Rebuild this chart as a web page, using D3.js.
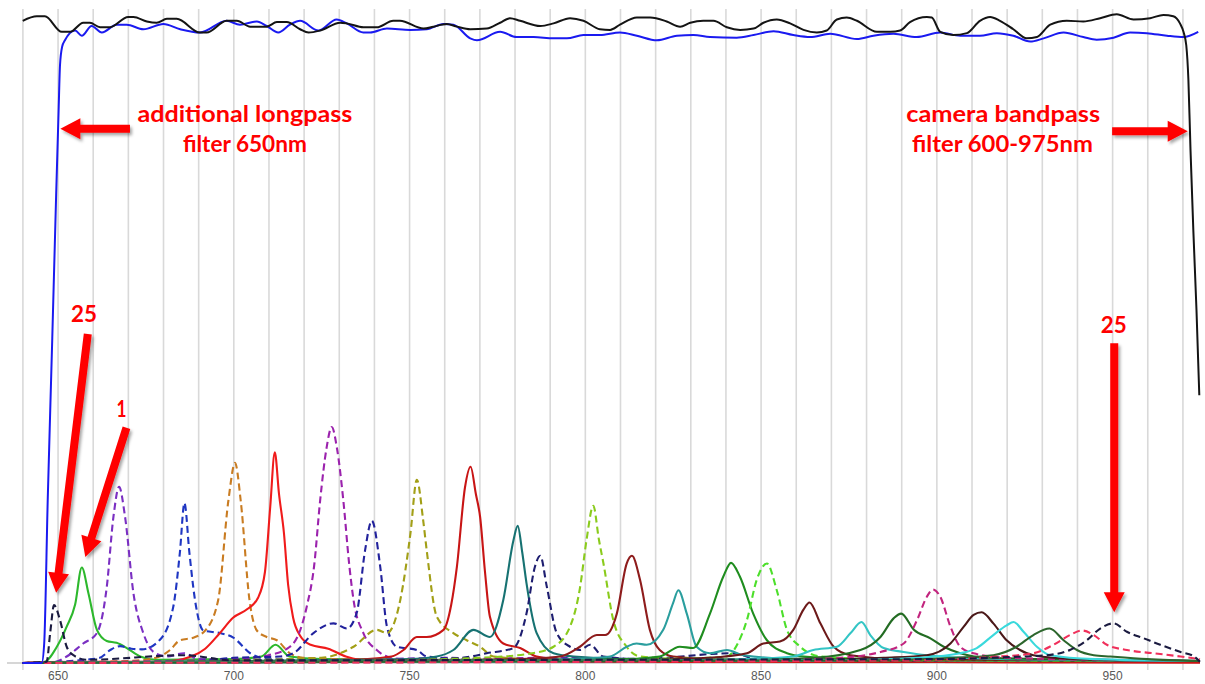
<!DOCTYPE html>
<html>
<head>
<meta charset="utf-8">
<script src="https://cdn.jsdelivr.net/npm/d3@7"></script>
<style>
  html, body { margin: 0; padding: 0; background: #ffffff; }
  svg { display: block; }
</style>
</head>
<body>
<svg id="chart" width="1205" height="684"></svg>
<script>
// ---- Spectral responses, [wavelength nm, relative response %] ----
const band01 = [[640,0],[646,0.1],[649.8,2.5],[652.6,5.6],[655,9],[656.9,14.7],[658.8,10.7],[661.2,5.1],[664,3.4],[666.8,3.1],[669.7,2.3],[673.5,1],[678,0.5],[700,0.6],[708,1],[712,2.8],[716,1],[725,0.6],[760,0.5],[800,0.6],[850,0.4],[900,0.5],[975,0.3]];
const band02 = [[640,0],[647.9,0],[652.6,1],[657.3,3],[661.2,4.6],[664,11.7],[665.9,22.5],[667.5,27.1],[669.2,22.5],[671.6,10.7],[674.4,4.6],[677.3,1.7],[681,1],[686,1.5],[690,0.6],[730,0.4],[760,0.8],[790,0.3],[850,0.6],[900,0.4],[975,0.2]];
const band03 = [[640,0],[650,0.2],[658,0.5],[662,0.8],[665,2],[667.8,2.6],[671,2.2],[674,2.1],[679,3.5],[682.9,8.6],[684.8,17],[686.1,24.6],[687.5,17],[689.1,9.7],[691.5,5],[696.2,4.6],[700,3.9],[704.8,1.5],[710,0.6],[740,0.5],[800,0.4],[860,0.5],[920,0.3],[975,0.2]];
const band04 = [[640,0],[670,0.3],[678,0.8],[682,2],[684.8,3.5],[688.6,3.9],[692,5],[695.7,9.7],[698.6,25],[700.5,30.8],[702.1,25],[704.6,9.7],[706.7,5],[709.5,4],[712.4,3.5],[716.1,1.5],[720,0.8],[740,0.5],[780,0.6],[830,0.4],[900,0.5],[975,0.3]];
const band05 = [[640,0],[646,0.15],[660,0.2],[680,0.2],[688,1],[692,2.2],[696,4.5],[700,7],[704,8.3],[707,10],[709,14],[710.5,24],[711.8,32.4],[713,26],[714.4,20],[715.6,12],[717,7],[719,4.2],[722,2.8],[727,2.2],[732,1],[740,0.3],[770,0.4],[800,0.15],[850,0.2],[900,0.15],[975,0.1]];
const band06 = [[640,0],[680,0.3],[700,0.6],[710,1.2],[716.1,2.5],[719,5],[720.9,8.7],[723,15],[724.7,25],[726.5,33],[728,36.3],[729.5,33],[731.3,25],[733,15],[734.2,9.7],[737,4.6],[740.8,2],[743.7,1],[750,0.5],[790,0.8],[830,0.4],[880,0.5],[975,0.3]];
const band07 = [[640,0],[690,0.3],[700,0.8],[713.3,1],[717.1,1.5],[722.8,4.6],[728.5,6.1],[732.3,5.3],[735.1,7.7],[737.5,17.4],[739.4,21.9],[741.8,14.8],[743.7,5.6],[746.5,2.5],[752.2,2],[755,1],[770,0.5],[800,0.7],[850,0.4],[900,0.5],[975,0.2]];
const band08 = [[640,0],[700,0.4],[725,0.8],[734.2,2.5],[740.8,5.1],[743.7,4.6],[747.5,9.7],[750.4,20],[752.2,28.2],[754,22],[755,17.4],[757.9,7.1],[762.6,4.6],[766.4,3.5],[770.2,2.5],[774,1],[790,0.5],[830,0.6],[900,0.4],[975,0.2]];
const band09 = [[640,0],[700,0.2],[730,0.4],[745,1],[748.4,2],[752.2,4],[755,4],[759.8,5.1],[762,9],[763.6,14.8],[765.9,27],[767.5,30.2],[769,26],[770.2,22.5],[771.6,14],[773,7.1],[776.8,3],[781.6,2.3],[786.3,1],[800,0.2],[850,0.2],[900,0.15],[975,0.1]];
const band10 = [[640,0],[720,0.4],[750,0.6],[757.9,1],[762.6,2],[768.3,5.1],[773,4],[776.8,9.7],[779.7,18.9],[780.9,21.1],[782.2,17],[783.4,12.3],[786.3,4.6],[791.1,1.5],[796.8,1],[820,0.5],[880,0.4],[975,0.3]];
const band11 = [[640,0],[740,0.4],[765,0.8],[772.1,1.5],[779.7,2.3],[783.4,7.6],[785.8,14.8],[787.3,16.5],[789.2,11.7],[792,4.6],[795.8,2.5],[798.6,2],[801.5,2.8],[805.2,1],[815,0.6],[842,1.5],[850,0.5],[900,0.4],[975,0.3]];
const band12 = [[640,0],[740,0.4],[770,0.8],[785,1.5],[791.1,2.5],[795.8,5.6],[798.6,11.5],[800.5,19],[802.4,24.2],[804,19],[805.3,15.3],[808.1,6.6],[811.9,2.5],[815.7,1],[830,0.6],[880,0.4],[975,0.3]];
const band13 = [[640,0],[760,0.4],[785,0.7],[793,1],[798.6,2.5],[803.4,4.3],[805.8,4.3],[809.1,7.6],[811.9,15.3],[813.4,16.5],[815.7,12.8],[818.5,5.1],[821.3,2],[825.1,1],[840,0.5],[900,0.4],[975,0.3]];
const band14 = [[640,0],[780,0.4],[800,0.7],[807.2,1],[811.9,2.5],[814.7,3],[817.6,2.8],[822.3,5.1],[825.1,9.2],[826.6,11.2],[829,7.6],[831.8,2.5],[835.6,1.5],[840.4,2],[845.1,1.2],[860,0.6],[920,0.4],[975,0.3]];
const band15 = [[640,0],[790,0.4],[812,0.6],[821.3,1],[827,2.5],[830.8,2.3],[835.6,7.6],[839.4,13.3],[841.6,15.4],[844.1,13.3],[847.9,7.6],[851.8,3.5],[857.5,1.5],[862.2,1],[880,0.6],[930,0.4],[975,0.3]];
const band16 = [[640,0],[800,0.4],[830,0.7],[840.4,1],[843.5,3],[846.1,6.6],[848.9,12.8],[851.8,15.3],[854.6,11.2],[857.5,5.1],[861.3,2.5],[867,1],[890,0.5],[975,0.3]];
const band17 = [[640,0],[810,0.4],[835,0.8],[846.1,1.5],[850.8,3],[855.5,3.3],[859.3,5.1],[862.2,8.2],[863.9,9.3],[867,6.1],[870.8,2.5],[875.6,1.2],[890,0.6],[975,0.3]];
const band18 = [[640,0],[820,0.4],[850,0.7],[859.3,1],[865,2],[871.7,2.5],[875.6,4.6],[878.7,6.3],[881.2,4.3],[885,2.3],[890.7,1.7],[897.3,1.2],[920,0.6],[975,0.3]];
const band19 = [[640,0],[840,0.4],[865,0.8],[878.4,2],[884.1,4],[887.9,6.9],[890,7.6],[893.6,5.1],[898.3,3.8],[902.1,2.5],[906.8,1.5],[915,0.8],[975,0.3]];
const band20 = [[640,0],[850,0.4],[875,0.9],[884.1,1.7],[890.7,3],[894.5,6.6],[897.3,10.2],[899,11.3],[901.1,10.2],[904,5.6],[906.8,2.5],[910.6,1.5],[920,0.8],[975,0.3]];
const band21 = [[640,0],[860,0.4],[885,0.8],[897.3,1.2],[904,3],[907.8,5.6],[910.6,7.4],[912.9,7.8],[916.2,6.1],[920,3.5],[923.8,2],[927.6,1.2],[940,0.6],[975,0.3]];
const band22 = [[640,0],[870,0.4],[895,0.8],[906.8,1.5],[911.5,2.3],[916.2,4.3],[920,5.8],[922,6.3],[924.8,4.8],[928.6,2.5],[932.4,1.2],[945,0.6],[975,0.3]];
const band23 = [[640,0],[880,0.4],[905,0.8],[916.2,1.2],[922.8,2.5],[927.6,4.3],[932.2,5.3],[936.2,3.5],[940,2],[944.8,1.2],[949.5,1],[960,0.6],[975,0.3]];
const band24 = [[640,0],[890,0.4],[915,0.9],[927.6,1.5],[933.3,2.8],[938,4.3],[941.4,5],[944.8,4.3],[948.5,2.8],[954.2,2],[961.8,1.5],[969.5,1],[975,0.6]];
const band25 = [[640,0],[646.9,0.2],[647.9,4.6],[649,8.9],[650.7,6.6],[652.6,2.5],[654.5,1.2],[658.3,0.5],[686,1.2],[700,0.4],[800,0.5],[900,0.6],[920,0.9],[931.4,1.2],[938,2],[942.8,3.5],[946.6,5.3],[950.4,6.1],[954.2,4.8],[959,3.8],[963.7,2.8],[969.5,1.7],[973.3,1],[975,0.2]];

// ---- Filter transmission curves (%) ----
const longpass650 = [[640,0],[645.5,0],[646.2,3],[647.2,25],[648.5,50],[649.6,72],[650.3,85],[650.7,92],[651.3,94.8],[652.1,95.8],[655,97.3],[656.9,96.5],[659.7,98],[662.6,97],[666.8,98.2],[669.7,98.2],[674.4,97.5],[680.1,98.3],[684.9,97.5],[690.5,97],[698.1,98.8],[701.9,98.2],[706.7,98.7],[709.5,98],[712.8,97],[716.1,98.2],[719,98.8],[724.2,97.3],[729.4,99],[732.3,98.4],[737,97],[738.9,97],[743.7,97.6],[750.3,97.4],[755,97.5],[759.8,98.3],[762.6,98.2],[767.4,96.1],[769.3,95.8],[775.9,97.1],[780.6,96.3],[785.4,96.3],[791.1,96.1],[794.9,96.1],[799.6,96.6],[804.3,96.6],[810,97],[814.8,96.5],[820.5,95.8],[826.2,96.5],[830.9,96.6],[835.6,96.3],[843.2,96.2],[848,96.6],[853.7,97.2],[859.3,96.6],[864.1,96.3],[869.8,96.8],[877.4,96],[882.1,96.5],[887.8,96.8],[894.4,96.3],[901.1,97],[906.8,96.5],[912.4,96.5],[917.2,96.9],[921.9,96.5],[926.7,95.6],[930.5,96.1],[936.2,97],[941.8,96.3],[945.6,95.9],[950.4,96.2],[955.1,97],[959.9,96.9],[965.6,96.5],[970.3,96.3],[974.5,97.1]];
const bandpass600_975 = [[640.1,98.8],[644.1,99.5],[646.4,99.5],[651.2,97.1],[653.6,97.1],[657.3,98.5],[659.2,98.5],[662.1,97.8],[664.9,97.8],[670.1,99.4],[671.6,99.4],[675.4,98.7],[678.2,98.5],[681.1,99.1],[683.9,99.1],[690.5,97],[692.4,97],[698.1,98.8],[701,98.8],[704.8,97.9],[709.5,97.9],[712.4,98.6],[715.2,98.6],[719,97.5],[721.4,97],[724.7,97.3],[730.4,98.5],[732.3,98.4],[737,97.8],[740.8,97.8],[745.5,98.8],[747.4,98.8],[754.1,97.6],[756.9,97.9],[760.7,98.3],[763.6,97.9],[767.4,97.5],[772.1,97.6],[775.9,98.5],[778.7,99.2],[781.6,98.8],[787.3,98],[791.1,98.4],[795.8,99.2],[799.6,98.8],[804.3,97.5],[807.2,97.4],[810,98.2],[814.8,99.3],[818.6,99.3],[823.3,98.7],[827.1,97.9],[830,98.5],[833.7,98.8],[836.6,98.8],[840.4,97.8],[844.2,97.4],[848,97.6],[850.8,98.5],[854.6,99],[858.4,98.4],[862.2,97.4],[866,97],[868.8,97.3],[871.7,99],[874.5,99.3],[877.4,98.8],[883.1,97.1],[886.9,97.1],[889.7,97.3],[892.5,98.6],[897.3,99.4],[898.7,99.3],[901.1,97.1],[904.8,96.6],[908.7,96.9],[912.4,98.8],[915.3,99.4],[918.1,98.8],[921.9,97.5],[925.7,96.1],[928.6,96.3],[932.4,98.2],[937.1,98.8],[941.8,98.7],[946.6,99.2],[951.3,99.8],[956.1,99],[960.8,99.2],[964.6,99.7],[967.4,99.5],[969.3,98.4],[970.3,97.1],[971.1,95],[971.7,89.7],[972.3,78.9],[973.1,66.6],[974,54.3],[974.8,41.2]];

// ---- Axis ticks ----
const labelTicks = [650, 700, 750, 800, 850, 900, 950];
const gridTicks = d3.range(640, 971, 10);

// ---- Annotations (text, anchor in nm / %) ----
const noteTexts = ["additional longpass", "filter 650nm", "camera bandpass", "filter 600-975nm", "25", "1", "25"];
const noteAnchors = [[703.3, 83.2], [703.3, 78.6], [919.0, 83.2], [918.8, 78.6], [657.5, 52.4], [668.2, 37.8], [950.5, 50.7]];
const arrowStarts = [[670.6, 82.2], [950.0, 81.8], [658.6, 50.6], [669.6, 36.2], [950.6, 49.2]];
const arrowTips   = [[650.8, 82.2], [971.5, 81.8], [649.6, 10.8], [657.9, 16.3], [950.6, 7.8]];

// ---- Styles ----
const bands = [band01, band02, band03, band04, band05, band06, band07, band08, band09, band10,
               band11, band12, band13, band14, band15, band16, band17, band18, band19, band20,
               band21, band22, band23, band24, band25];
const bandColors = ["#2db82d", "#7a2fc2", "#1f36c2", "#c97c22", "#f01b1b", "#9b22ad", "#22229c", "#a29f16", "#c81515", "#177272",
                    "#1e1e70", "#8acb1c", "#8e1c1c", "#2a9e9e", "#1f8d1f", "#4ddf2b", "#6d1a1a", "#33c5c5", "#236c23", "#c2247e",
                    "#4a1818", "#3ad9dc", "#2d662d", "#f0305b", "#1b1b40"];
const bandDashed = [false, true, true, true, false, true, true, true, false, false,
                    true, true, false, false, false, true, false, false, false, true,
                    false, false, false, true, true];
const noteWidths = [215, 124, 194, 181, 26, 10, 26];

const svg = d3.select("#chart");
const W = 1205, H = 684;
svg.append("rect").attr("width", W).attr("height", H).attr("fill", "#ffffff");

const x = d3.scaleLinear().domain([640, 975]).range([22.4, 1200]);
const y = d3.scaleLinear().domain([0, 100]).range([663, 13]);

const plotTop = 9, axisY = y(0), tickBottom = 670;

// arrow shadow
const defs = svg.append("defs");
const f = defs.append("filter").attr("id", "shadow").attr("x", "-30%").attr("y", "-30%").attr("width", "160%").attr("height", "160%");
f.append("feDropShadow").attr("dx", 2).attr("dy", 2.5).attr("stdDeviation", 1.6)
  .attr("flood-color", "#000").attr("flood-opacity", 0.35);

// vertical gridlines (extend a little below the axis as tick marks)
const grid = svg.append("g").attr("transform", `translate(0,${tickBottom})`)
  .call(d3.axisBottom(x).tickValues(gridTicks).tickSize(-(tickBottom - plotTop)).tickFormat(""));
grid.select(".domain").remove();
grid.selectAll(".tick line").attr("stroke", "#d9d9d9").attr("stroke-width", 1.6);

// horizontal axis line
svg.append("line").attr("x1", 7).attr("x2", 1200).attr("y1", axisY).attr("y2", axisY)
  .attr("stroke", "#c8c8c8").attr("stroke-width", 1.5);

// axis labels
const ax = svg.append("g").attr("transform", `translate(0,${tickBottom})`)
  .call(d3.axisBottom(x).tickValues(labelTicks).tickSize(0).tickPadding(1.8).tickFormat(d3.format("d")));
ax.select(".domain").remove();
ax.selectAll("text").attr("font-family", "'Liberation Sans', Arial, sans-serif")
  .attr("font-size", 12).attr("fill", "#595959");

const line = d3.line().x(d => x(d[0])).y(d => y(d[1])).curve(d3.curveMonotoneX);

// band responses
svg.append("g").selectAll("path").data(bands).join("path")
  .attr("d", line)
  .attr("fill", "none")
  .attr("stroke", (d, i) => bandColors[i])
  .attr("stroke-width", 2.1)
  .attr("stroke-linejoin", "round")
  .attr("stroke-dasharray", (d, i) => bandDashed[i] ? "7,4" : null);

// filter transmissions
svg.append("path").datum(longpass650).attr("d", line).attr("fill", "none")
  .attr("stroke", "#1a1af0").attr("stroke-width", 2);
svg.append("path").datum(bandpass600_975).attr("d", line).attr("fill", "none")
  .attr("stroke", "#141414").attr("stroke-width", 2);

// arrows
function arrowPoly(p0, p1, shaftW, headL, headW) {
  const x0 = x(p0[0]), y0 = y(p0[1]), x1 = x(p1[0]), y1 = y(p1[1]);
  const len = Math.hypot(x1 - x0, y1 - y0);
  const ux = (x1 - x0) / len, uy = (y1 - y0) / len;
  const nx = -uy, ny = ux;
  const bx = x1 - ux * headL, by = y1 - uy * headL;
  const pts = [
    [x0 + nx * shaftW / 2, y0 + ny * shaftW / 2],
    [bx + nx * shaftW / 2, by + ny * shaftW / 2],
    [bx + nx * headW / 2, by + ny * headW / 2],
    [x1, y1],
    [bx - nx * headW / 2, by - ny * headW / 2],
    [bx - nx * shaftW / 2, by - ny * shaftW / 2],
    [x0 - nx * shaftW / 2, y0 - ny * shaftW / 2]
  ];
  return pts.map(p => p.join(",")).join(" ");
}
svg.append("g").attr("filter", "url(#shadow)")
  .selectAll("polygon").data(arrowStarts).join("polygon")
  .attr("points", (d, i) => arrowPoly(d, arrowTips[i], 8, 20, 21))
  .attr("fill", "#ff0000");

// annotation texts
svg.append("g").selectAll("text").data(noteTexts).join("text")
  .attr("x", (d, i) => x(noteAnchors[i][0]))
  .attr("y", (d, i) => y(noteAnchors[i][1]))
  .attr("text-anchor", "middle")
  .attr("font-family", "Lato, 'Open Sans', sans-serif")
  .attr("font-weight", 700)
  .attr("font-size", 22)
  .attr("fill", "#ff0000")
  .attr("textLength", (d, i) => noteWidths[i])
  .attr("lengthAdjust", "spacingAndGlyphs")
  .text(d => d);
</script>
</body>
</html>
